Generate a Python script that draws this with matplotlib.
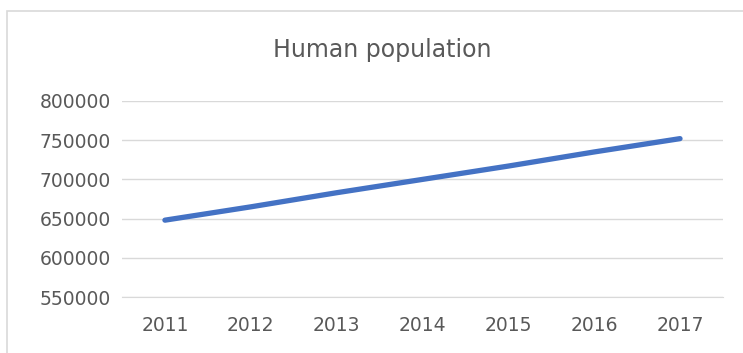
import matplotlib.pyplot as plt
from matplotlib.patches import Rectangle

plt.rcParams['font.family'] = ['Liberation Sans Narrow', 'DejaVu Sans']

years = ['2011', '2012', '2013', '2014', '2015', '2016', '2017']
population = [648000, 665000, 683000, 700000, 717000, 735000, 752000]
y_ticks = [550000, 600000, 650000, 700000, 750000, 800000]

fig = plt.figure(figsize=(7.43, 3.53), dpi=100)
ax = fig.add_axes([0.1642, 0.1586, 0.8088, 0.5553])

# chart border, cut off on the right and bottom
fig.patches.append(Rectangle((7 / 743, -0.1), 1.2, 1 - 11 / 353 + 0.1,
                             transform=fig.transFigure, fill=False,
                             edgecolor='#d9d9d9', linewidth=1.2))

x = range(len(years))
ax.plot(x, population, color='#4472c4', linewidth=3.8, solid_capstyle='round')

ax.set_xlim(-0.5, len(years) - 0.5)
ax.set_ylim(550000, 800000)
ax.set_yticks(y_ticks)
ax.set_yticklabels([str(v) for v in y_ticks])
ax.set_xticks(list(x))
ax.set_xticklabels(years)
ax.grid(axis='y', color='#d9d9d9', linewidth=1)
ax.set_axisbelow(True)
for side in ['top', 'right', 'left']:
    ax.spines[side].set_visible(False)
ax.spines['bottom'].set_color('#d9d9d9')
ax.tick_params(length=0, labelsize=13.5, colors='#595959')
ax.tick_params(axis='x', pad=14)
ax.tick_params(axis='y', pad=8)

fig.text(0.515, 0.858, 'Human population', ha='center', va='center',
         fontsize=17, color='#595959')

fig.savefig('out.png', dpi=100)
